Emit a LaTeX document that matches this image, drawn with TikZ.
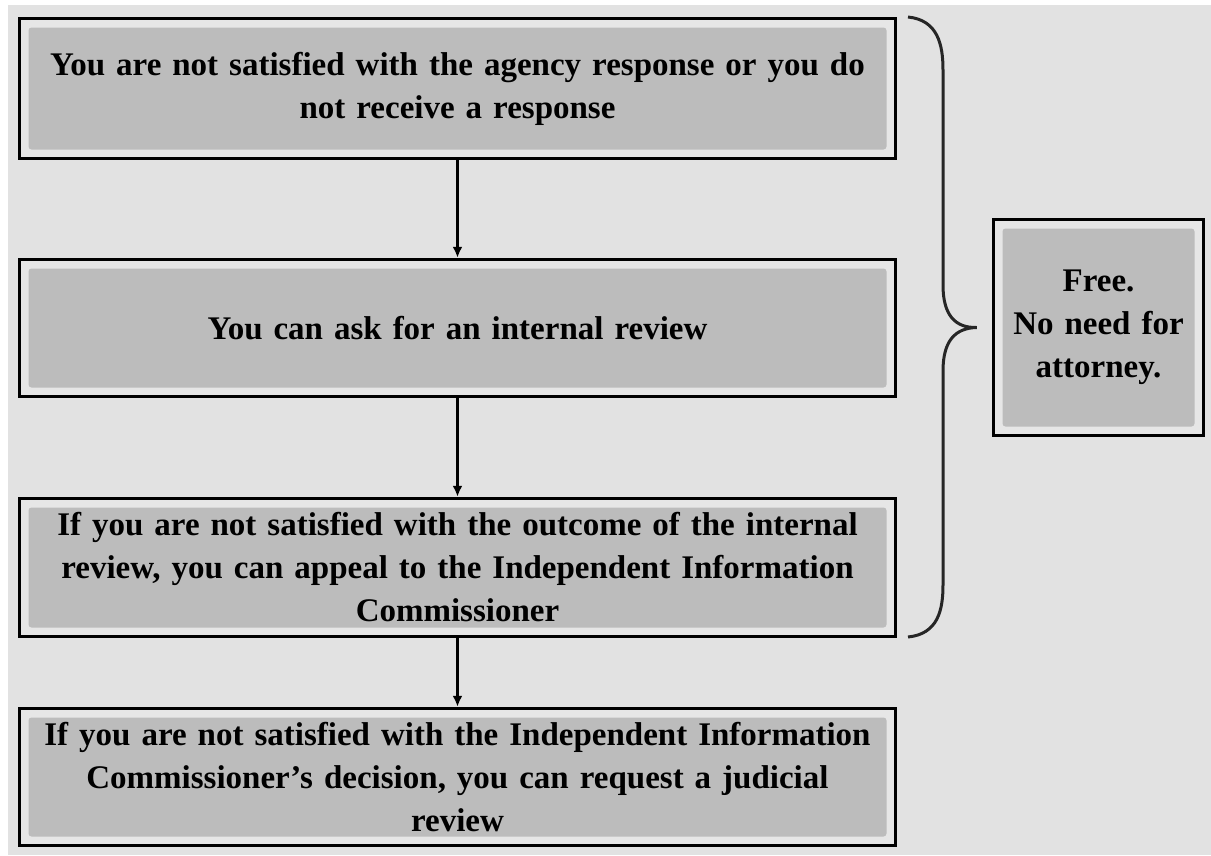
\documentclass[tikz,border=0pt]{standalone}
\usepackage{fontspec}
\setmainfont{Liberation Serif}
\usetikzlibrary{arrows.meta}

\definecolor{pagegray}{HTML}{E2E2E2}
\definecolor{gapgray}{HTML}{E6E6E6}
\definecolor{fillgray}{HTML}{BCBCBC}

\tikzset{
	stepbox/.style={draw=black, line width=3.5pt, fill=gapgray, align=center,
		font=\bfseries\fontsize{33}{43}\selectfont, inner sep=0pt,
		path picture={\fill[fillgray, rounded corners=3pt]
			([shift={(9pt,9pt)}]path picture bounding box.south west) rectangle
			([shift={(-9pt,-9pt)}]path picture bounding box.north east);}},
	flow/.style={->, line width=2.2pt},
}

\begin{document}
\begin{tikzpicture}[x=1pt, y=-1pt, >={Latex[length=11pt,width=10pt]}]
	\fill[white] (0, 0) rectangle (1211, 855);
	\fill[pagegray] (8, 5) rectangle (1211, 855);
	\useasboundingbox (0, 0) rectangle (1211, 855);

	% left column of steps
	\node [stepbox, minimum width=876pt, minimum height=140pt, text width=860pt]
		(unhappy) at (457.5, 88.5)
		{You are not satisfied with the agency response or you do\\not receive a response};
	\node [stepbox, minimum width=876pt, minimum height=137pt, text width=860pt]
		(internal) at (457.5, 328)
		{You can ask for an internal review};
	\node [stepbox, minimum width=876pt, minimum height=138pt, text width=860pt]
		(commish) at (457.5, 567.5)
		{If you are not satisfied with the outcome of the internal\\review, you can appeal to the Independent Information\\Commissioner};
	\node [stepbox, minimum width=876pt, minimum height=137pt, text width=860pt]
		(judicial) at (457.5, 777)
		{If you are not satisfied with the Independent Information\\Commissioner's decision, you can request a judicial\\review};

	% side note
	\node [stepbox, minimum width=210pt, minimum height=216pt, text width=200pt]
		(free) at (1098.5, 327.5)
		{Free.\\No need for\\attorney.};

	\draw [flow] (unhappy) -- (internal);
	\draw [flow] (internal) -- (commish);
	\draw [flow] (commish) -- (judicial);

	% brace
	\coordinate (tip) at ([xshift=-15pt]free.west);
	\draw [line width=3pt, black!85]
		(908, 17) .. controls (938, 20) and (943, 45) .. (943, 70)
		-- (943, 285) .. controls (943, 315) and (955, 328) .. (tip)
		.. controls (955, 328) and (943, 341) .. (943, 371)
		-- (943, 585) .. controls (943, 610) and (938, 634) .. (908, 637);
\end{tikzpicture}
\end{document}
